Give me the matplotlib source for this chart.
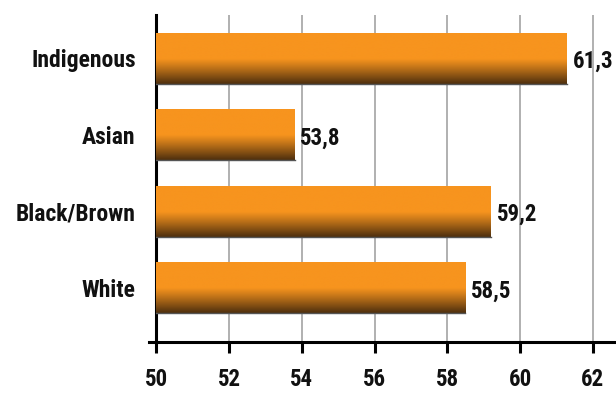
import numpy as np
import matplotlib
matplotlib.use("Agg")
import matplotlib.pyplot as plt
from matplotlib.colors import to_rgb

# data (bottom to top)
groups = ["White", "Black/Brown", "Asian", "Indigenous"]
values = [58.5, 59.2, 53.8, 61.3]
value_labels = ["58,5", "59,2", "53,8", "61,3"]
xticks = [50, 52, 54, 56, 58, 60, 62]

plt.rcParams["font.family"] = ["Roboto Condensed", "DejaVu Sans"]
plt.rcParams["font.weight"] = "bold"

fig = plt.figure(figsize=(6.16, 3.95), dpi=100)
ax = fig.add_axes([0.254, 0.134, 0.746, 0.828])

# vertical gradient for the bars: flat orange, then fading to brown
orange = np.array(to_rgb("#F7941E"))
brown = np.array(to_rgb("#4E2F0E"))
t = np.linspace(0, 1, 100)
mix = np.clip((t - 0.5) / 0.5, 0, 1) ** 1.1
grad = orange[None, :] * (1 - mix[:, None]) + brown[None, :] * mix[:, None]
grad = grad[:, None, :]

h = 0.66
ypos = np.arange(len(groups))
for y, v in zip(ypos, values):
    ax.imshow(grad, extent=(50, v, y - h / 2, y + h / 2), origin="upper",
              aspect="auto", interpolation="bilinear", zorder=3)
    ax.plot([50, v], [y - h / 2, y - h / 2], color="#555555", lw=1, zorder=3)

for y, v, lab in zip(ypos, values, value_labels):
    ax.annotate(lab, (v, y), xytext=(4, -2), textcoords="offset points",
                ha="left", va="center", fontsize=16.5, fontweight="bold",
                color="#111111", annotation_clip=False)

ax.set_xlim(50, 62.64)
ax.set_ylim(-0.705, 3.568)
ax.set_xticks(xticks)
ax.set_xticklabels([str(x) for x in xticks])
ax.set_yticks(ypos)
ax.set_yticklabels(groups)

ax.grid(axis="x", color="#aaaaaa", lw=1.3, zorder=0)
ax.set_axisbelow(True)

for s in ["top", "right"]:
    ax.spines[s].set_visible(False)
for s in ["left", "bottom"]:
    ax.spines[s].set_linewidth(2.2)
    ax.spines[s].set_color("#000000")
ax.spines["bottom"].set_bounds(49.8, 62.64)

ax.tick_params(axis="x", direction="out", length=8, width=2.2, pad=11,
               labelsize=16.5, colors="#000000")
ax.tick_params(axis="y", length=0, pad=15, labelsize=17)
for lab in ax.get_xticklabels() + ax.get_yticklabels():
    lab.set_fontweight("bold")
    lab.set_color("#111111")

fig.savefig("out.png", dpi=100)
